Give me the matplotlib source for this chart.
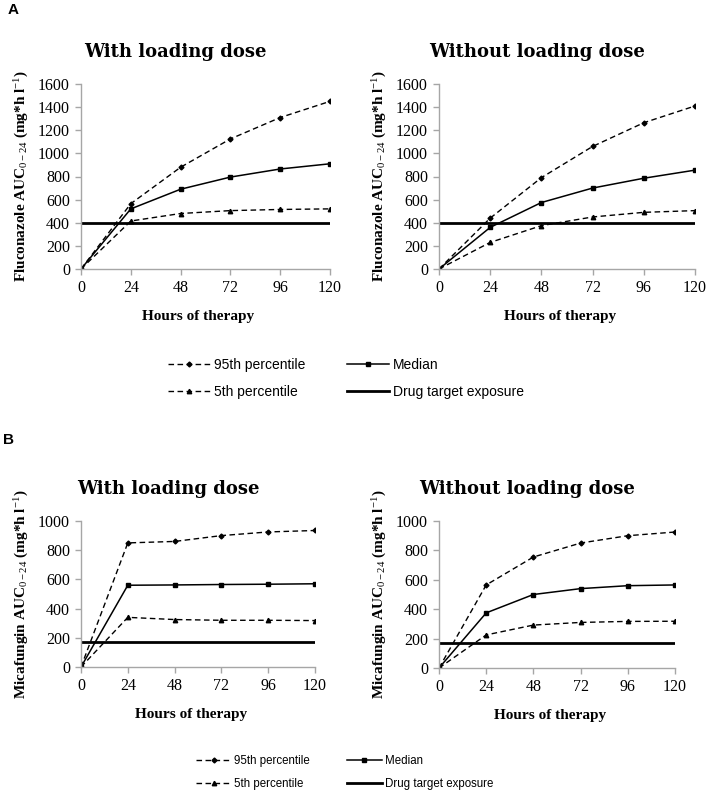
import numpy as np
import matplotlib; matplotlib.use('agg')
import matplotlib.pyplot as plt

matplotlib.rcParams['mathtext.fontset'] = 'custom'
matplotlib.rcParams['mathtext.rm'] = 'Liberation Serif'
matplotlib.rcParams['mathtext.it'] = 'Liberation Serif:italic'
matplotlib.rcParams['mathtext.bf'] = 'Liberation Serif:bold'

# data
hours = [0, 24, 48, 72, 96, 120]

# Fluconazole, with loading dose
flu_load_p95 = [0, 565, 880, 1125, 1310, 1450]
flu_load_med = [0, 520, 690, 795, 865, 910]
flu_load_p5 = [0, 415, 480, 505, 515, 520]
# Fluconazole, without loading dose
flu_noload_p95 = [0, 440, 790, 1060, 1265, 1410]
flu_noload_med = [0, 360, 575, 700, 785, 855]
flu_noload_p5 = [0, 230, 375, 450, 490, 505]
flu_target = 400

# Micafungin, with loading dose
mica_load_p95 = [0, 850, 860, 900, 925, 935]
mica_load_med = [0, 560, 562, 565, 567, 570]
mica_load_p5 = [0, 340, 325, 320, 320, 318]
# Micafungin, without loading dose
mica_noload_p95 = [0, 565, 755, 850, 900, 925]
mica_noload_med = [0, 375, 500, 540, 560, 565]
mica_noload_p5 = [0, 225, 292, 310, 317, 318]
mica_target = 170

labels = ["95th percentile", "5th percentile", "Median", "Drug target exposure"]

W, H = 709, 792
fig = plt.figure(figsize=(W / 100, H / 100), dpi=100)

serif = 'Liberation Serif'
gray = '#a6a6a6'


def px_axes(x0, x1, ytop, ybot):
    return fig.add_axes([x0 / W, 1 - ybot / H, (x1 - x0) / W, (ybot - ytop) / H])


def draw_panel(ax, p95, med, p5, target, ymax, ystep, title, ylabel):
    wpx = ax.get_position().width * W
    hpx = ax.get_position().height * H
    h1, = ax.plot(hours, p95, color='black', lw=1.0, dashes=(4, 2.5),
                  marker='D', ms=2.5)
    h2, = ax.plot(hours, p5, color='black', lw=1.0, dashes=(4, 2.5),
                  marker='^', ms=3.2)
    h3, = ax.plot(hours, med, color='black', lw=1.1, marker='s', ms=2.6)
    h4, = ax.plot([0, 120], [target, target], color='black', lw=2.0)
    ax.set_xlim(0, 120)
    ax.set_ylim(0, ymax)
    ax.set_xticks(hours)
    ax.set_yticks(np.arange(0, ymax + 1, ystep))
    for s in ['top', 'right']:
        ax.spines[s].set_visible(False)
    for s in ['left', 'bottom']:
        ax.spines[s].set_color(gray)
        ax.spines[s].set_linewidth(1.0)
    ax.tick_params(direction='out', length=4, width=1.0, color=gray,
                   labelsize=11.5, pad=4)
    for t in ax.get_xticklabels() + ax.get_yticklabels():
        t.set_fontfamily(serif)
    ax.set_xlabel("Hours of therapy", fontfamily=serif, fontweight='bold',
                  fontsize=11)
    ax.xaxis.set_label_coords(0.5 - 7 / wpx, -41 / hpx)
    ax.set_ylabel(ylabel, fontfamily=serif, fontweight='bold', fontsize=11)
    ax.yaxis.set_label_coords(-50 / wpx, 0.5)
    ax.text(0.5 - 30 / wpx, 1 + 32 / hpx, title, transform=ax.transAxes,
            ha='center', va='center', fontfamily='DejaVu Serif',
            fontweight='bold', fontsize=13)
    return [h1, h2, h3, h4]


flu_label = r"Fluconazole AUC$_{\mathrm{0-24}}$ (mg*h l$^{\mathrm{-1}}$)"
mica_label = r"Micafungin AUC$_{\mathrm{0-24}}$ (mg*h l$^{\mathrm{-1}}$)"

axA1 = px_axes(81, 330, 84, 269)
axA2 = px_axes(439, 695, 84, 269)
axB1 = px_axes(81, 315, 521, 667)
axB2 = px_axes(439, 675, 521, 668)

hA = draw_panel(axA1, flu_load_p95, flu_load_med, flu_load_p5, flu_target,
                1600, 200, "With loading dose", flu_label)
draw_panel(axA2, flu_noload_p95, flu_noload_med, flu_noload_p5, flu_target,
           1600, 200, "Without loading dose", flu_label)
hB = draw_panel(axB1, mica_load_p95, mica_load_med, mica_load_p5, mica_target,
                1000, 200, "With loading dose", mica_label)
draw_panel(axB2, mica_noload_p95, mica_noload_med, mica_noload_p5, mica_target,
           1000, 200, "Without loading dose", mica_label)

fig.legend(hA, labels, loc='center', bbox_to_anchor=(346 / W, 1 - 378.5 / H),
           ncol=2, frameon=False, prop={'family': 'Liberation Sans', 'size': 10},
           handlelength=3.0, handletextpad=0.3, columnspacing=3.0,
           labelspacing=0.9)
fig.legend(hB, labels, loc='center', bbox_to_anchor=(345 / W, 1 - 772.5 / H),
           ncol=2, frameon=False, prop={'family': 'Liberation Sans', 'size': 8.3},
           handlelength=3.0, handletextpad=0.3, columnspacing=3.2,
           labelspacing=0.9)

fig.text(8 / W, 1 - 10 / H, "A", fontfamily='Liberation Sans', fontweight='bold',
         fontsize=11, ha='left', va='center')
fig.text(3 / W, 1 - 440 / H, "B", fontfamily='Liberation Sans', fontweight='bold',
         fontsize=11, ha='left', va='center')

fig.savefig("out.png", dpi=100)
